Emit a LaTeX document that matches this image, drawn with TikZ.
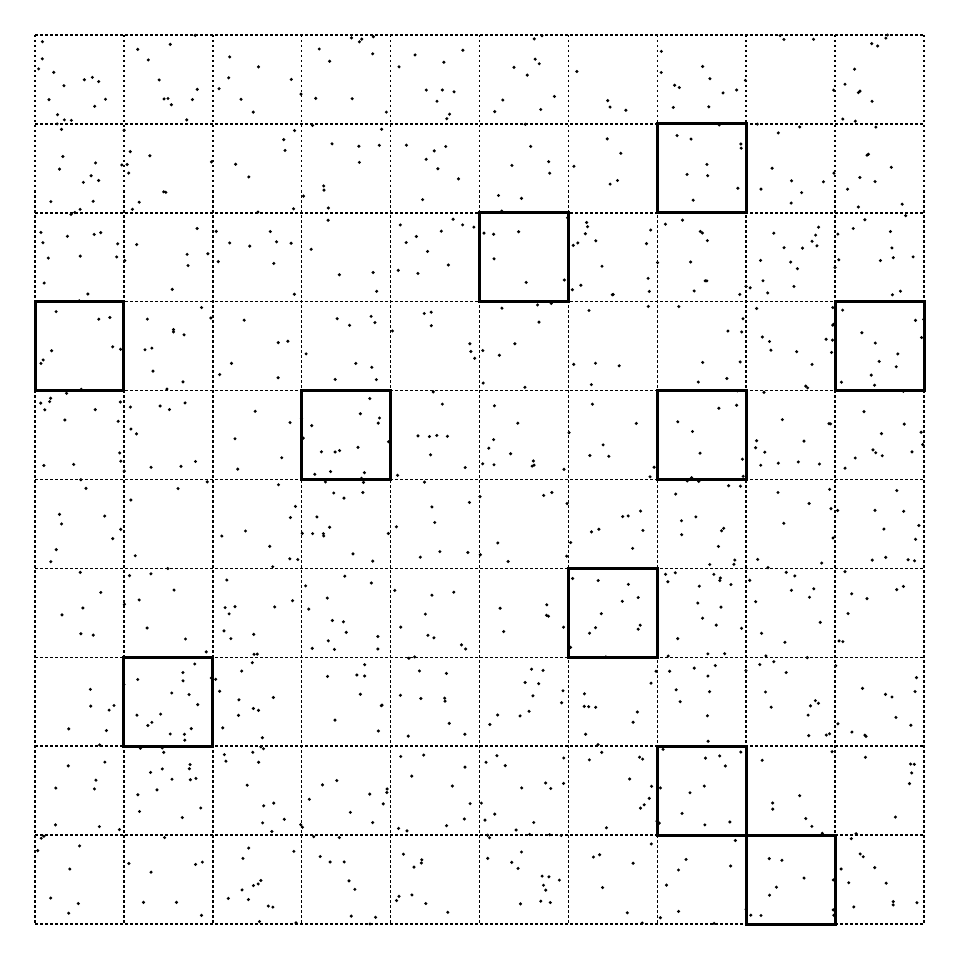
\documentclass[tikz,border=0pt]{standalone}
\begin{document}
\begin{tikzpicture}[x=1pt,y=-1pt,
  gridline/.style={line width=1.5pt,dash pattern=on 2.5pt off 2.5pt,black},
  hibox/.style={line width=3pt,black},
  speck/.style={fill=black}]
\useasboundingbox (0,0) rectangle (960,960);
\fill[white] (0,0) rectangle (960,960);
\def\cs{88.9}
% random specks
\pgfmathsetseed{4711}
\foreach \i in {1,...,1000}{
  \pgfmathsetmacro\rx{35+889*rnd}
  \pgfmathsetmacro\ry{35+889*rnd}
  \fill[speck] (\rx,\ry) circle (1.7);
}
% dotted grid
\foreach \k in {0,...,10}{
  \pgfmathsetmacro\p{35+\cs*\k}
  \draw[gridline] (\p,35) -- (\p,924);
  \draw[gridline] (35,\p) -- (924,\p);
}
% highlighted cells (col,row from top)
\foreach \c/\r in {7/1,5/2,0/3,9/3,3/4,7/4,6/6,1/7,7/8,8/9}{
  \pgfmathsetmacro\xa{35+\cs*\c}
  \pgfmathsetmacro\ya{35+\cs*\r}
  \draw[hibox] (\xa,\ya) rectangle ++(\cs,\cs);
}
\end{tikzpicture}
\end{document}
